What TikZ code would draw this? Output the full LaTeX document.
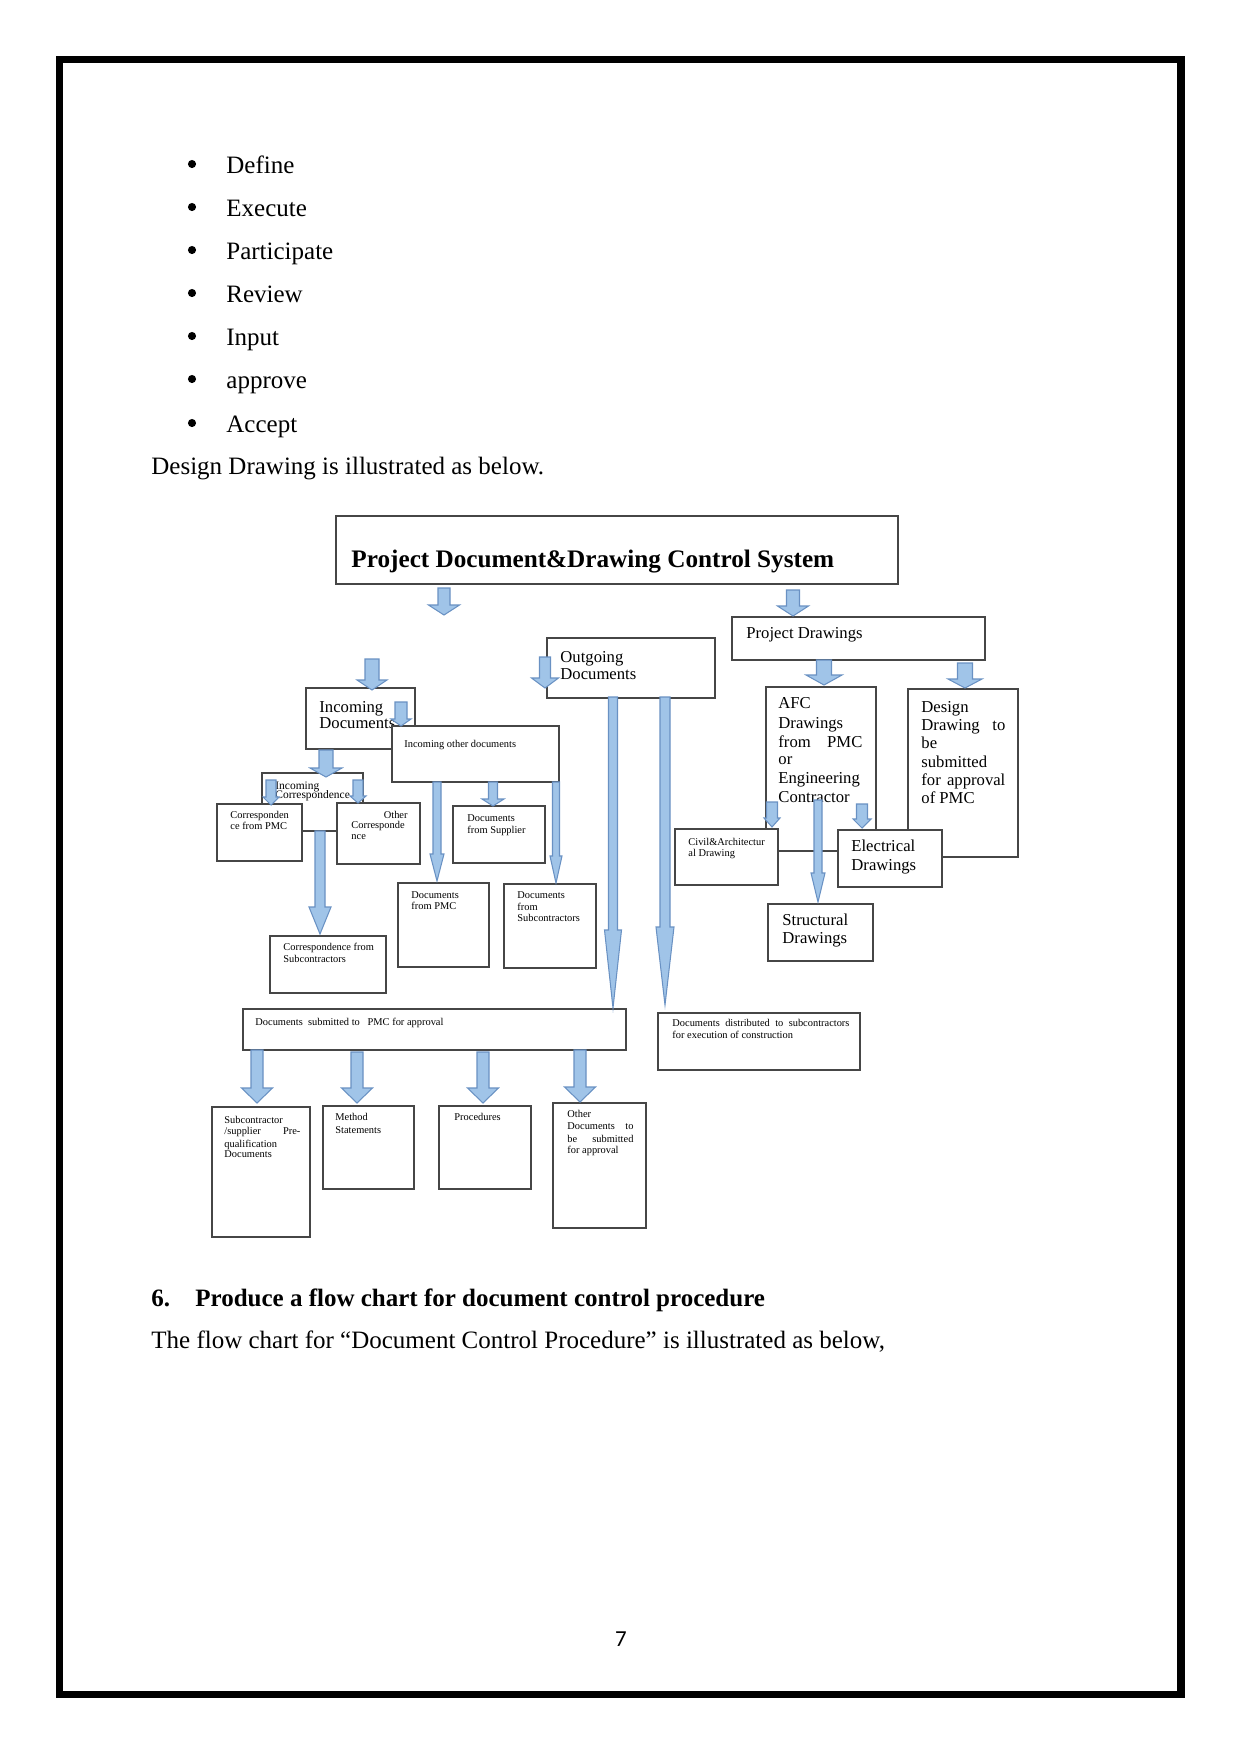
\documentclass[tikz,border=0pt]{standalone}
\usepackage{fontspec}
\setmainfont{Liberation Serif}
\newfontfamily\pnfont{Carlito}
\definecolor{arrfill}{RGB}{160,196,232}
\definecolor{arrline}{RGB}{105,145,195}
\definecolor{boxline}{RGB}{70,70,70}
\newcommand\drbox[5]{\node[box,minimum width={(#4-#2)*0.48pt},minimum height={(#5-#3)*0.48pt}] (#1) at (#2,#3) {};}
% cx, ytop, ytip, shaft half width, head half width, head length
\newcommand\barw[6]{\filldraw[arr] (#1-#4,#2) -- (#1+#4,#2) -- (#1+#4,#3-#6) -- (#1+#5,#3-#6) -- (#1,#3) -- (#1-#5,#3-#6) -- (#1-#4,#3-#6) -- cycle;}
\newcommand\js[2]{\makebox[#1pt][s]{#2}}
\begin{document}
\begin{tikzpicture}[x=0.48pt,y=-0.48pt,
 box/.style={draw=boxline,line width=1pt,fill=white,inner sep=0pt,outer sep=0pt,anchor=north west},
 arr/.style={fill=arrfill,draw=arrline,line width=0.5pt,line join=miter},
 tb/.style={anchor=base west,inner sep=0pt,font=\fontsize{12}{14}\selectfont},
 t8/.style={anchor=base west,inner sep=0pt,font=\fontsize{8}{9}\selectfont},
 t5/.style={anchor=base west,inner sep=0pt,font=\fontsize{5}{6}\selectfont},
 t55/.style={anchor=base west,inner sep=0pt,font=\fontsize{5.5}{6}\selectfont},
 bulletdot/.style={circle,fill=black,inner sep=0pt,minimum size=3.9pt},
]
\useasboundingbox (0,0) rectangle (1241,1754);
\fill[white] (0,0) rectangle (1241,1754);
% page border
\draw[line width=3.4pt] (59.5,59.5) rectangle (1181,1694.5);

% body text
\foreach \yy/\ww [count=\i] in {173/Define,216/Execute,259/Participate,302/Review,345/Input,388/approve,432/Accept}{
  \node[bulletdot] (bul\i) at (192,\yy-9) {};
  \node[tb] (item\i) at (226,\yy) {\ww};
}
\node[tb] (intro) at (151,474) {Design Drawing is illustrated as below.};
\node[tb,font=\fontsize{12}{14}\selectfont\bfseries] (hnum) at (151,1306) {6.};
\node[tb,font=\fontsize{12}{14}\selectfont\bfseries] (head) at (195,1306) {Produce a flow chart for document control procedure};
\node[tb] (flowtxt) at (151,1348) {The flow chart for “Document Control Procedure” is illustrated as below,};
\node[anchor=base,inner sep=0pt,font=\pnfont\fontsize{11}{13}\selectfont] (pnum) at (621,1646) {7};

% ---- back boxes
\drbox{title}{336}{516}{898}{584}
\drbox{outgoing}{547}{638}{715}{698}
\drbox{projdraw}{732}{617}{985}{660}
\drbox{incdocs}{306}{688}{415}{749}
\drbox{inccorr}{262}{773}{363}{831}
\drbox{afc}{766}{687}{876}{851}
\drbox{design}{908}{689}{1018}{857}
\drbox{corrsub}{270}{936}{386}{993}
\drbox{docspmc}{398}{883}{489}{967}
\drbox{docssup}{453}{806}{545}{863}
\drbox{docssubc}{504}{884}{596}{968}
\drbox{struct}{768}{904}{873}{961}
\drbox{submitted}{243}{1009}{626}{1050}
\drbox{distrib}{658}{1013}{860}{1070}
\drbox{prequal}{212}{1107}{310}{1237}
\drbox{method}{323}{1106}{414}{1189}
\drbox{proc}{439}{1106}{531}{1189}
\drbox{otherdocs}{553}{1103}{646}{1228}

% ---- texts of back boxes
\node[tb,font=\fontsize{12.1}{14}\selectfont\bfseries] (titletxt) at (351,567) {Project Document\&Drawing Control System};
\node[t8] (og1) at (560,662) {Outgoing};
\node[t8] (og2) at (560,679) {Documents};
\node[t8] (pd1) at (746,638) {Project Drawings};
\node[t8] (id1) at (319,712) {Incoming};
\node[t8] (id2) at (319,728) {Documents};
\node[t55] (ic1) at (275,789) {Incoming};
\node[t55] (ic2) at (275,798) {Correspondence};
\node[t8] (afc1) at (778,708) {AFC};
\node[t8] (afc2) at (778,728) {Drawings};
\node[t8] (afc3) at (778,747) {\js{40.3}{from\hfill PMC}};
\node[t8] (afc4) at (778,764) {or};
\node[t8] (afc5) at (778,783) {Engineering};
\node[t8] (afc6) at (778,802) {Contractor};
\node[t8] (dd1) at (921,712) {Design};
\node[t8] (dd2) at (921,730) {\js{40.3}{Drawing\hfill to}};
\node[t8] (dd3) at (921,748) {be};
\node[t8] (dd4) at (921,767) {submitted};
\node[t8] (dd5) at (921,785) {\js{40.3}{for\hfill approval}};
\node[t8] (dd6) at (921,803) {of PMC};
\node[t5] (cs1) at (283,950) {Correspondence from};
\node[t5] (cs2) at (283,962) {Subcontractors};
\node[t5] (dp1) at (411,898) {Documents};
\node[t5] (dp2) at (411,909) {from PMC};
\node[t5] (ds1) at (467,821) {Documents};
\node[t5] (ds2) at (467,833) {from Supplier};
\node[t5] (dc1) at (517,898) {Documents};
\node[t5] (dc2) at (517,910) {from};
\node[t5] (dc3) at (517,921) {Subcontractors};
\node[t8] (st1) at (782,925) {Structural};
\node[t8] (st2) at (782,943) {Drawings};
\node[t5] (sb1) at (255,1025) {Documents\ \ submitted to\ \ \ PMC for approval};
\node[t5] (di1) at (672,1026) {\js{85}{Documents\hfill distributed\hfill to\hfill subcontractors}};
\node[t5] (di2) at (672,1038) {for execution of construction};
\node[t5] (pq1) at (224,1123) {Subcontractor};
\node[t5] (pq2) at (224,1134) {\js{36.5}{/supplier\hfill Pre-}};
\node[t5] (pq3) at (224,1147) {qualification};
\node[t5] (pq4) at (224,1157) {Documents};
\node[t5] (me1) at (335,1120) {Method};
\node[t5] (me2) at (335,1133) {Statements};
\node[t5] (pr1) at (454,1120) {Procedures};
\node[t5] (od1) at (567,1117) {Other};
\node[t5] (od2) at (567,1129) {\js{31.7}{Documents\hfill to}};
\node[t5] (od3) at (567,1142) {\js{31.7}{be\hfill submitted}};
\node[t5] (od4) at (567,1153) {for approval};

% ---- front boxes
\drbox{incother}{392}{726}{559}{782}
\drbox{corrpmc}{217}{804}{302}{861}
\drbox{othercorr}{337}{803}{420}{864}
\drbox{civil}{675}{829}{778}{885}
\drbox{elec}{838}{830}{942}{887}
\node[t5] (io1) at (404,747) {Incoming other documents};
\node[t5] (cp1) at (230,818) {Corresponden};
\node[t5] (cp2) at (230,829) {ce from PMC};
\node[t5,anchor=base east] (oc1) at (408,818) {Other};
\node[t5] (oc2) at (351,828) {Corresponde};
\node[t5] (oc3) at (351,839) {nce};
\node[t5] (cv1) at (688,845) {Civil\&Architectur};
\node[t5] (cv2) at (688,856) {al Drawing};
\node[t8] (el1) at (851,851) {Electrical};
\node[t8] (el2) at (851,870) {Drawings};

% ---- block arrows
\barw{444}{588}{615}{6}{15.5}{10}
\barw{793}{590}{616}{6.5}{15.5}{10}
\barw{545}{657}{688}{5.5}{13.5}{10}
\barw{372}{659}{690}{7}{15}{10}
\barw{401}{702}{726}{6}{10}{7}
\barw{326}{750}{777}{7}{16}{9}
\barw{271}{780}{805}{5}{8}{8}
\barw{358}{780}{803}{5}{8}{7}
\barw{320}{831}{934}{5}{11}{27}
\barw{437}{782}{881}{4}{7}{27}
\barw{493}{782}{806}{4.5}{11}{7}
\barw{556}{782}{883}{3.5}{6}{27}
\barw{613}{697}{1008}{4.5}{8.5}{78}
\barw{665}{697}{1005}{5}{9}{78}
\barw{824}{660}{685}{7.5}{18}{10}
\barw{965}{663}{688}{7.5}{17}{9}
\barw{772}{802}{827}{5.5}{8}{9}
\barw{862}{804}{828}{5.5}{9}{9}
\barw{818}{800}{902}{4}{7}{29}
\barw{257}{1050}{1103}{6}{15.5}{15}
\barw{357}{1052}{1103}{6}{15.5}{15}
\barw{483}{1052}{1103}{6}{15.5}{15}
\barw{580}{1050}{1102}{6}{15.5}{15}
\end{tikzpicture}
\end{document}
